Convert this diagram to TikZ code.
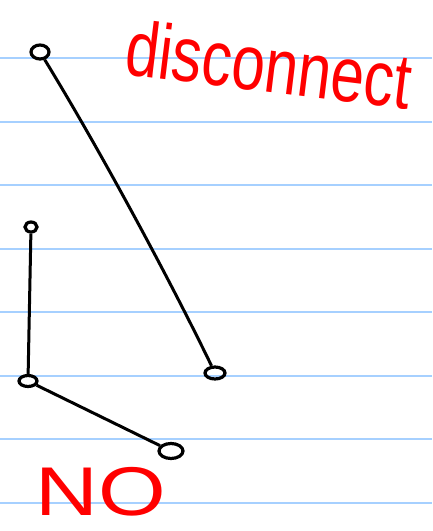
\documentclass[tikz,border=0pt]{standalone}
\usepackage{fontspec}
\setmainfont{Liberation Sans}
\usepackage{xcolor}
\usepackage{tikz}
\usetikzlibrary{positioning,shapes.geometric}
\definecolor{InkRed}{HTML}{FF0000}
\definecolor{RuleBlue}{HTML}{A6D0FF}

\begin{document}
\begin{tikzpicture}[x=1pt,y=-1pt,
    vertex/.style={draw=black, line width=3.2pt, ellipse, inner sep=0pt,
                   minimum width=14pt, minimum height=11pt},
    edgeline/.style={draw=black, line width=3pt},
    ruled/.style={draw=RuleBlue, line width=2pt},
    inktext/.style={text=InkRed, font=\fontsize{60}{60}\selectfont, inner sep=0pt}]
      \fill[white] (0,0) rectangle (432,531);
      \useasboundingbox (0,0) rectangle (432,531);
      % ruled paper
      \foreach \y in {58,121.5,185,248.5,312,375.5,439,502.5}
        \draw[ruled] (0,\y) -- (432,\y);
      % vertices
      \node[vertex, minimum width=18pt, minimum height=14pt] (a) at (40,52) {};
      \node[vertex, minimum width=12pt, minimum height=10pt] (b) at (31,227) {};
      \node[vertex, minimum width=18pt, minimum height=11pt] (c) at (28,381) {};
      \node[vertex, minimum width=24pt, minimum height=15pt] (d) at (171,451) {};
      \node[vertex, minimum width=20pt, minimum height=12pt] (e) at (215,373) {};
      % edges
      \draw[edgeline] (a) .. controls (100,150) and (170,280) .. (e);
      \draw[edgeline] (b) -- (c);
      \draw[edgeline] (c) -- (d);
      % labels
      \node[inktext, rotate=-7, yscale=1.3] (disc) at (269,64) {disconnect};
      \node[inktext, xscale=1.45, yscale=1.15] (no) at (101,492) {NO};
    \end{tikzpicture}
\end{document}
